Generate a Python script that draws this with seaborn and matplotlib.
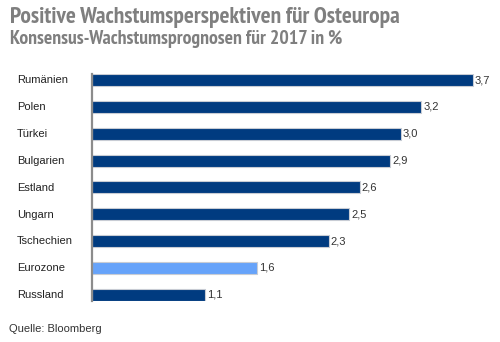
import matplotlib
matplotlib.use("Agg")
import matplotlib.pyplot as plt
from matplotlib import font_manager
import seaborn as sns
import pandas as pd

# Consensus growth forecasts for 2017, in percent
countries = ["Rumänien", "Polen", "Türkei", "Bulgarien", "Estland",
             "Ungarn", "Tschechien", "Eurozone", "Russland"]
growth = [3.7, 3.2, 3.0, 2.9, 2.6, 2.5, 2.3, 1.6, 1.1]
group = ["Osteuropa"] * 7 + ["Eurozone"] + ["Osteuropa"]

title = "Positive Wachstumsperspektiven für Osteuropa"
subtitle = "Konsensus-Wachstumsprognosen für 2017 in %"
source = "Quelle: Bloomberg"

df = pd.DataFrame({"Land": countries, "Wachstum": growth, "Gruppe": group})

sns.set_theme(style="white")
plt.rcParams["font.family"] = ["Liberation Sans", "DejaVu Sans"]


def condensed_bold():
    """Return a bold condensed face if one is installed, else None."""
    best = None
    for f in font_manager.fontManager.ttflist:
        nm = f.name.lower()
        narrow = ("narrow" in nm or "condensed" in nm
                  or "condensed" in str(f.stretch) or str(f.stretch) in ("semi-condensed",))
        bold = f.weight in ("bold", 700, "semibold", 600) or (
            isinstance(f.weight, int) and f.weight >= 600)
        if narrow and bold and "italic" not in f.style and "oblique" not in f.style:
            score = 0 if ("narrow" in nm or "roboto" in nm) else 1
            if best is None or score < best[0]:
                best = (score, f.fname)
    return best[1] if best else None


fname = condensed_bold()
if fname:
    head_font = font_manager.FontProperties(fname=fname)
    title_size, sub_size = 16.8, 14.2
else:
    head_font = font_manager.FontProperties(family="Liberation Sans", weight="bold")
    title_size, sub_size = 11.3, 9.8

W, H = 500, 342
fig = plt.figure(figsize=(W / 100, H / 100), dpi=100)
ax_left, ax_right = 92, 480
ax_top, ax_bottom = 74, 300.7
ax = fig.add_axes([ax_left / W, 1 - ax_bottom / H,
                   (ax_right - ax_left) / W, (ax_bottom - ax_top) / H])

palette = {"Osteuropa": "#003b80", "Eurozone": "#66a3fa"}
sns.barplot(data=df, y="Land", x="Wachstum", hue="Gruppe", palette=palette,
            orient="h", width=0.447, dodge=False, legend=False, saturation=1,
            edgecolor="#c8ccd4", linewidth=0.8, ax=ax)

ax.set_xlim(0, (ax_right - ax_left) / 102.9)
ax.set_ylim(8.224, -0.224)

for i, v in enumerate(growth):
    ax.text(v + 0.02, i, f"{v:.1f}".replace(".", ","), va="center", ha="left",
            fontsize=8, color="#333333", clip_on=False)

ax.set_xlabel("")
ax.set_ylabel("")
ax.set_xticks([])
ax.set_yticks(range(len(countries)))
ax.set_yticklabels([])
ax.tick_params(axis="y", length=0)
for i, c in enumerate(countries):
    fig.text(17 / W, 1 - (80.3 + 26.84 * i) / H, c, ha="left", va="center",
             fontsize=8, color="#222222")

for s in ["top", "right", "bottom"]:
    ax.spines[s].set_visible(False)
ax.spines["left"].set_color("#8c8c8c")
ax.spines["left"].set_linewidth(1.6)

fig.text(10 / W, 1 - 22.5 / H, title, ha="left", va="baseline",
         fontproperties=head_font, fontsize=title_size, color="#7f7f7f")
fig.text(10 / W, 1 - 44 / H, subtitle, ha="left", va="baseline",
         fontproperties=head_font, fontsize=sub_size, color="#7f7f7f")
fig.text(9 / W, 1 - 329 / H, source, ha="left", va="center",
         fontsize=8, color="#333333")

fig.savefig("out.png", dpi=100)
